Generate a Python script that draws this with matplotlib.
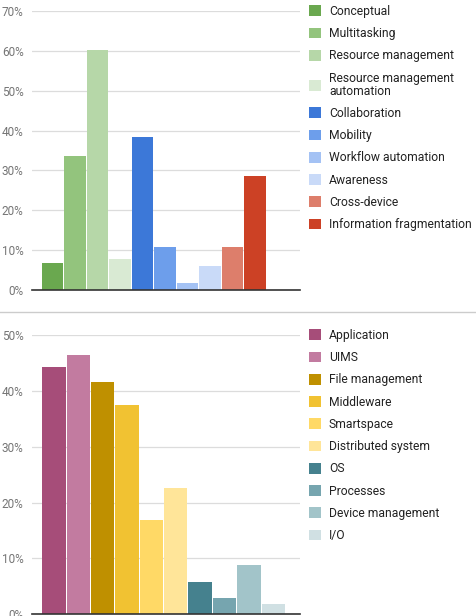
import numpy as np
import matplotlib.pyplot as plt
from matplotlib.patches import Patch
from matplotlib.ticker import PercentFormatter

# top chart
top_labels = ['Conceptual', 'Multitasking', 'Resource management',
              'Resource management\nautomation', 'Collaboration', 'Mobility',
              'Workflow automation', 'Awareness', 'Cross-device',
              'Information fragmentation']
top_values = [6.7, 33.6, 60.2, 7.7, 38.5, 10.8, 1.8, 6.0, 10.8, 28.5]
top_colors = ['#6aa84f', '#93c47d', '#b6d7a8', '#d9ead3', '#3c78d8',
              '#6d9eeb', '#a4c2f4', '#c9daf8', '#dd7e6b', '#cc4125']

# bottom chart
bot_labels = ['Application', 'UIMS', 'File management', 'Middleware',
              'Smartspace', 'Distributed system', 'OS', 'Processes',
              'Device management', 'I/O']
bot_values = [44.3, 46.4, 41.5, 37.4, 16.8, 22.6, 5.8, 3.0, 8.8, 1.8]
bot_colors = ['#a64d79', '#c27ba0', '#bf9000', '#f1c232', '#ffd966',
              '#ffe599', '#45818e', '#76a5af', '#a2c4c9', '#d0e0e3']

plt.rcParams['font.family'] = ['Roboto', 'DejaVu Sans']

fig = plt.figure(figsize=(4.76, 6.16), dpi=100)
W, H = 476, 616


def axes_px(left, right, top, bottom):
    return fig.add_axes([left / W, 1 - bottom / H, (right - left) / W, (bottom - top) / H])


def draw(ax, values, colors, labels, ymax, xlim, leg_top):
    x = np.arange(len(values))
    ax.bar(x, values, width=0.96, color=colors, zorder=3)
    ax.set_xlim(*xlim)
    ax.set_ylim(0, ymax)
    ax.set_yticks(np.arange(0, ymax + 1, 10))
    ax.yaxis.set_major_formatter(PercentFormatter(decimals=0))
    ax.set_xticks([])
    ax.tick_params(axis='y', length=0, pad=6, labelsize=8.5, labelcolor='#757575')
    ax.grid(axis='y', color='#dcdcdc', linewidth=0.9, zorder=0)
    for s in ['top', 'right', 'left']:
        ax.spines[s].set_visible(False)
    ax.spines['bottom'].set_color('#333333')
    ax.spines['bottom'].set_linewidth(1.2)
    ax.spines['bottom'].set_zorder(4)
    handles = [Patch(facecolor=c, edgecolor='none') for c in colors]
    leg = ax.legend(handles, labels, loc='upper left',
                    bbox_to_anchor=(309 / W, 1 - leg_top / H), bbox_transform=fig.transFigure,
                    frameon=False, fontsize=8.75, handlelength=0.98, handleheight=0.98,
                    handletextpad=0.66, labelspacing=0.76, borderaxespad=0, borderpad=0,
                    labelcolor='#222222')
    for t in leg.get_texts():
        t.set_linespacing(1.0)


ax1 = axes_px(32, 300, 11, 290)
draw(ax1, top_values, top_colors, top_labels, 70, (-0.92, 11.0), 5)

ax2 = axes_px(32, 300, 335, 614.3)
draw(ax2, bot_values, bot_colors, bot_labels, 50, (-0.9, 10.1), 329)

fig.add_artist(plt.Line2D([0, 1], [1 - 312 / H, 1 - 312 / H], color='#cccccc',
                          linewidth=1, transform=fig.transFigure))

fig.savefig('out.png', dpi=100)
